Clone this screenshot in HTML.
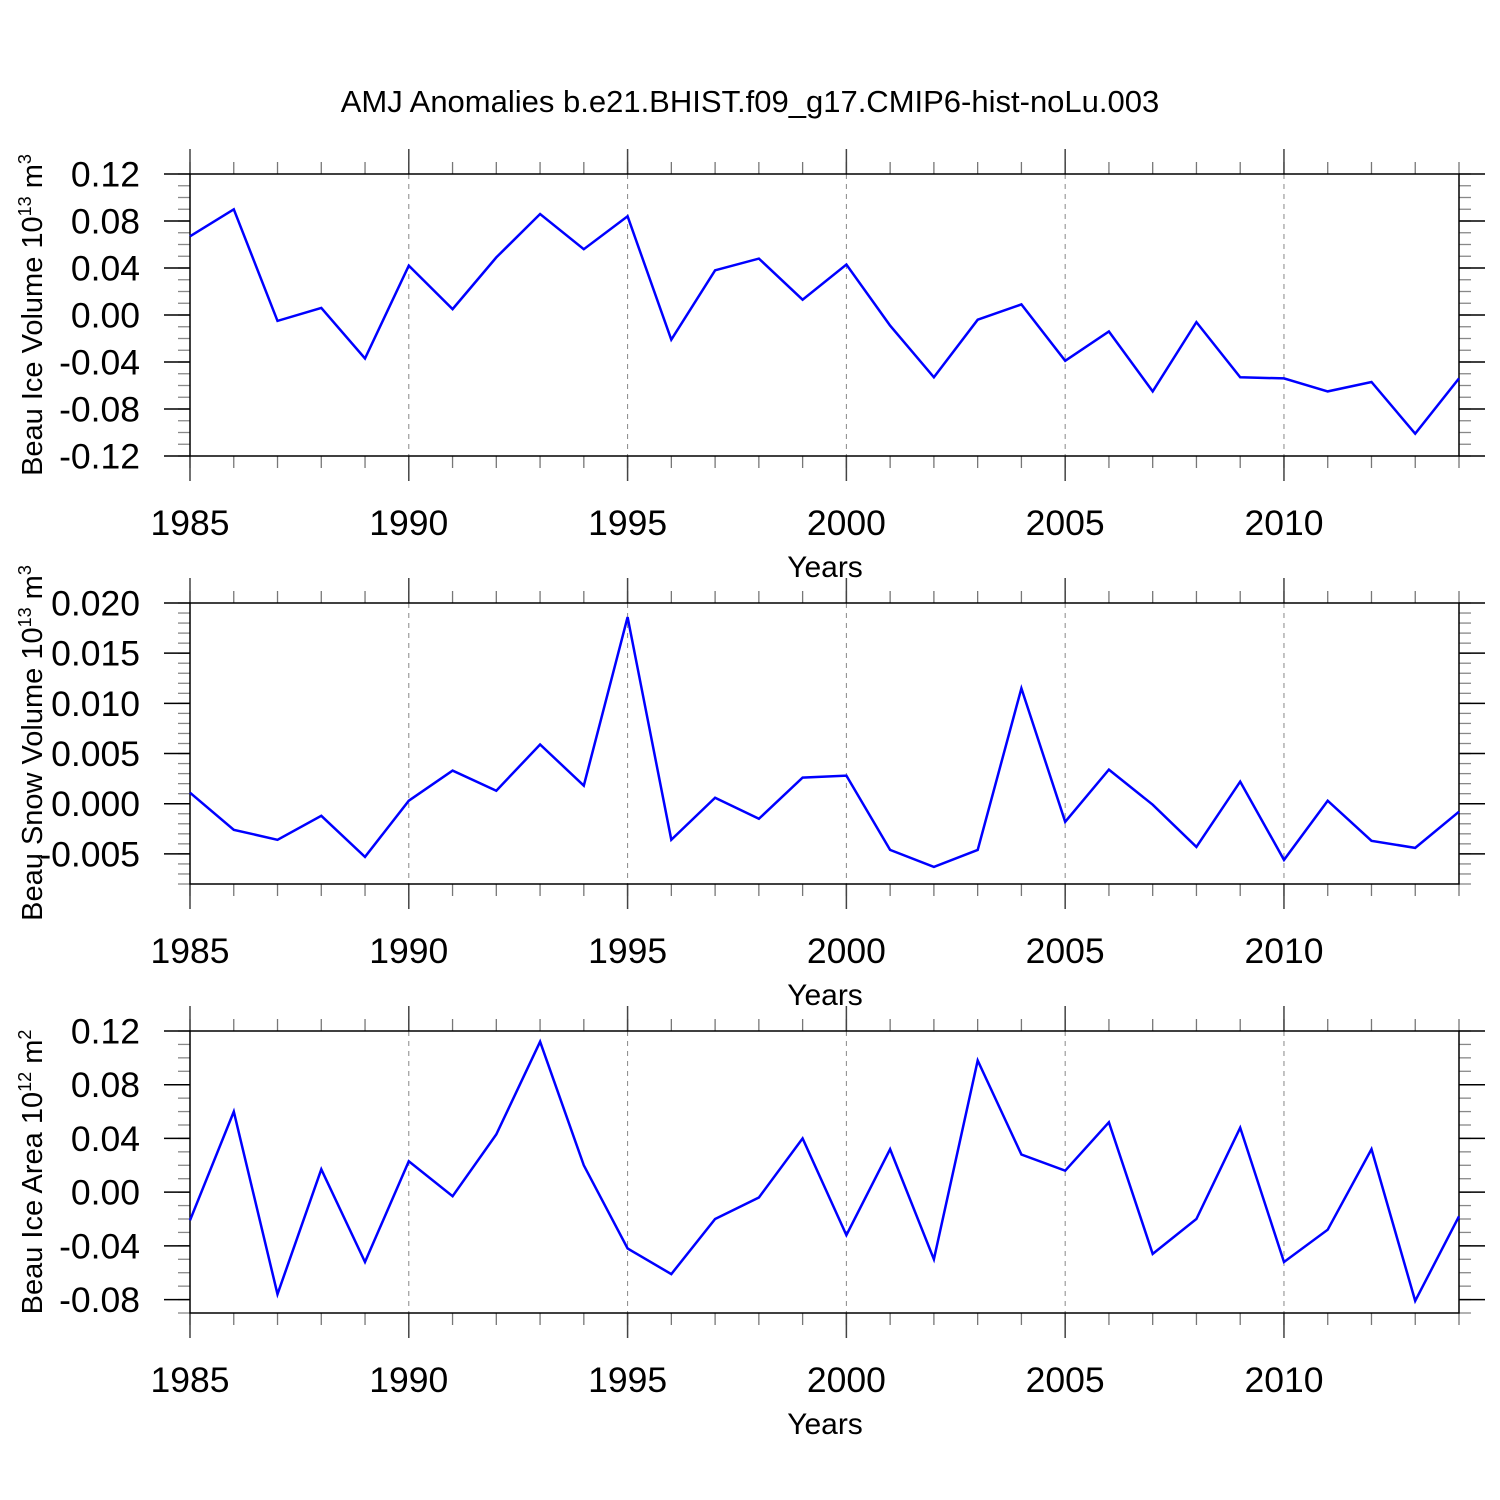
<!DOCTYPE html>
<html><head><meta charset="utf-8"><style>
html,body{margin:0;padding:0;background:#fff}
svg{display:block;font-family:"Liberation Sans",sans-serif}
</style></head><body>
<svg id="c" width="1500" height="1500" xmlns="http://www.w3.org/2000/svg">
<text x="750" y="112" text-anchor="middle" font-size="31">AMJ Anomalies b.e21.BHIST.f09_g17.CMIP6-hist-noLu.003</text>
</svg>
<script>
const years = [1985,1986,1987,1988,1989,1990,1991,1992,1993,1994,1995,1996,1997,1998,1999,2000,2001,2002,2003,2004,2005,2006,2007,2008,2009,2010,2011,2012,2013,2014];
const iceVolume = [0.067,0.090,-0.005,0.006,-0.037,0.042,0.005,0.049,0.086,0.056,0.084,-0.021,0.038,0.048,0.013,0.043,-0.009,-0.053,-0.004,0.009,-0.039,-0.014,-0.065,-0.006,-0.053,-0.054,-0.065,-0.057,-0.101,-0.054];
const snowVolume = [0.0011,-0.0026,-0.0036,-0.0012,-0.0053,0.0003,0.0033,0.0013,0.0059,0.0018,0.0186,-0.0036,0.0006,-0.0015,0.0026,0.0028,-0.0046,-0.0063,-0.0046,0.0115,-0.0018,0.0034,-0.0001,-0.0043,0.0022,-0.0056,0.0003,-0.0037,-0.0044,-0.0008];
const iceArea = [-0.021,0.060,-0.076,0.017,-0.052,0.023,-0.003,0.043,0.112,0.020,-0.042,-0.061,-0.020,-0.004,0.040,-0.032,0.032,-0.050,0.098,0.028,0.016,0.052,-0.046,-0.020,0.048,-0.052,-0.028,0.032,-0.081,-0.018];
const xTickYears = [1985,1990,1995,2000,2005,2010];
const ticks1 = ["0.12","0.08","0.04","0.00","-0.04","-0.08","-0.12"];
const ticks2 = ["0.020","0.015","0.010","0.005","0.000","-0.005"];
const ticks3 = ["0.12","0.08","0.04","0.00","-0.04","-0.08"];

const svg=document.getElementById('c');
const NS="http://www.w3.org/2000/svg";
function mk(tag,attrs,parent){const e=document.createElementNS(NS,tag);for(const k in attrs)e.setAttribute(k,attrs[k]);(parent||svg).appendChild(e);return e;}
const X0=190,X1=1459;
const xs=v=>X0+(v-1985)/(2014-1985)*(X1-X0);

const panels=[
 {name:'ice-volume',top:174,bot:456,ymin:-0.12,data:iceVolume,ticks:ticks1,minor:0.01,title:'Beau Ice Volume 10',sup:'13',unit:' m',usup:'3',tcy:315},
 {name:'snow-volume',top:603,bot:884,ymin:-0.008,data:snowVolume,ticks:ticks2,minor:0.001,title:'Beau Snow Volume 10',sup:'13',unit:' m',usup:'3',tcy:743},
 {name:'ice-area',top:1031,bot:1313,ymin:-0.09,data:iceArea,ticks:ticks3,minor:0.01,title:'Beau Ice Area 10',sup:'12',unit:' m',usup:'2',tcy:1172}
];
panels.forEach((p)=>{
 const g=mk('g',{});
 
 
 const y0v=parseFloat(p.ticks[0]);
 const ys=v=>p.top+(y0v-v)/(y0v-p.ymin)*(p.bot-p.top);
 xTickYears.slice(1).forEach(yr=>{const l=mk('line',{x1:xs(yr),x2:xs(yr),y1:p.top,y2:p.bot,stroke:'#888','stroke-width':1,'stroke-dasharray':'5,5'},g);
   });
 years.forEach(yr=>{mk('line',{x1:xs(yr),x2:xs(yr),y1:p.top-12,y2:p.top,stroke:'#777','stroke-width':1.3},g);
   mk('line',{x1:xs(yr),x2:xs(yr),y1:p.bot,y2:p.bot+12,stroke:'#777','stroke-width':1.3},g);});
 xTickYears.forEach(yr=>{mk('line',{x1:xs(yr),x2:xs(yr),y1:p.top-25,y2:p.top,stroke:'#444','stroke-width':1.5},g);
   mk('line',{x1:xs(yr),x2:xs(yr),y1:p.bot,y2:p.bot+25,stroke:'#444','stroke-width':1.5},g);
   const t=mk('text',{x:xs(yr),y:p.bot+79,'text-anchor':'middle','font-size':35.5},g);t.textContent=yr;
   });
 const nMin=Math.round((y0v-p.ymin)/p.minor);
 for(let i=0;i<=nMin;i++){const v=y0v-i*p.minor;const y=ys(v);
   mk('line',{x1:X0-12,x2:X0,y1:y,y2:y,stroke:'#888','stroke-width':1.3},g);
   mk('line',{x1:X1,x2:X1+12,y1:y,y2:y,stroke:'#888','stroke-width':1.3},g);}
 p.ticks.forEach(s=>{const v=parseFloat(s);const y=ys(v);
   mk('line',{x1:X0-26,x2:X0,y1:y,y2:y,stroke:'#000','stroke-width':1.5},g);
   mk('line',{x1:X1,x2:X1+26,y1:y,y2:y,stroke:'#000','stroke-width':1.5},g);
   const t=mk('text',{x:140,y:y+12.5,'text-anchor':'end','font-size':35.5},g);t.textContent=s;
   });
 const fr=mk('rect',{x:X0,y:p.top,width:X1-X0,height:p.bot-p.top,fill:'none',stroke:'#000','stroke-width':1.5},g);
 
 const pts=p.data.map((v,i)=>xs(years[i]).toFixed(1)+','+ys(v).toFixed(1)).join(' ');
 const pl=mk('polyline',{points:pts,fill:'none',stroke:'#0000ff','stroke-width':2.5,'stroke-linejoin':'miter'},g);
 
 const xt=mk('text',{x:825,y:p.bot+121,'text-anchor':'middle','font-size':30},g);xt.textContent='Years';
 
 const yt=mk('text',{x:0,y:0,'text-anchor':'middle','font-size':29,transform:`translate(42,${p.tcy}) rotate(-90)`},g);
 
 const a=mk('tspan',{},yt);a.textContent=p.title;
 const b=mk('tspan',{dy:-11,'font-size':18},yt);b.textContent=p.sup;
 const c=mk('tspan',{dy:11},yt);c.textContent=p.unit;
 const d=mk('tspan',{dy:-11,'font-size':18},yt);d.textContent=p.usup;
});
</script>
</body></html>
